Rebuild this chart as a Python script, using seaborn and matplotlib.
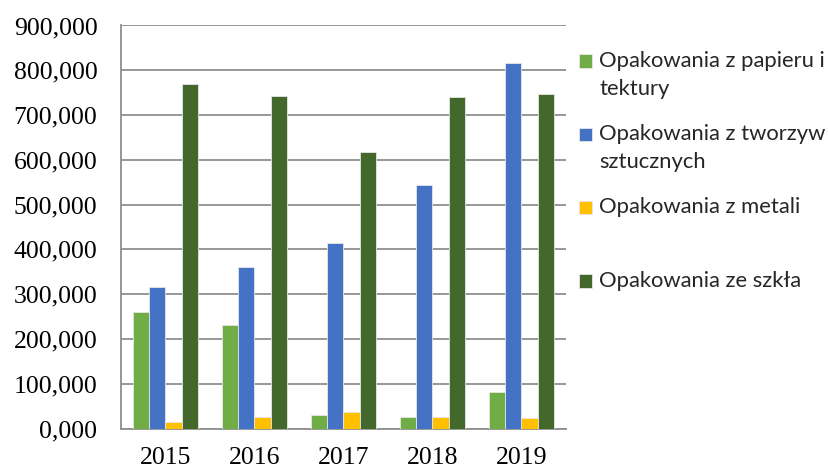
import numpy as np
import pandas as pd
import matplotlib
matplotlib.use('Agg')
import matplotlib.pyplot as plt
import matplotlib.patches as mpatches
from matplotlib.legend_handler import HandlerPatch
from matplotlib.ticker import FuncFormatter, FixedLocator
import seaborn as sns

# dane (tys. ton)
years = ['2015', '2016', '2017', '2018', '2019']
series = ['Opakowania z papieru i\ntektury',
          'Opakowania z tworzyw\nsztucznych',
          'Opakowania z metali\n ',
          'Opakowania ze szkła\n ']
paper = [259.5, 231.0, 29.5, 26.0, 81.5]
plastic = [315.0, 361.0, 415.0, 544.0, 817.0]
metal = [15.0, 26.0, 37.0, 25.5, 24.5]
glass = [769.0, 742.5, 617.0, 741.0, 748.0]
colors = ['#70AD47', '#4472C4', '#FFC000', '#43682B']

df = pd.DataFrame({'rok': years * 4,
                   'typ': [s for s in series for _ in years],
                   'wartosc': paper + plastic + metal + glass})

sns.set_style('white')

fig = plt.figure(figsize=(8.29, 4.68), dpi=100)
ax = fig.add_axes([121 / 829, 1 - 428.5 / 468, 445 / 829, 403 / 468])

sns.barplot(data=df, x='rok', y='wartosc', hue='typ', palette=colors,
            width=0.72, gap=0, saturation=1, edgecolor='#e6e6e6', linewidth=0.6,
            errorbar=None, ax=ax, zorder=3)

ax.set_ylim(0, 900)
ax.set_xlim(-0.5, 4.5)
ax.set_yticks(np.arange(0, 901, 100))
ax.yaxis.set_major_formatter(FuncFormatter(lambda v, p: f'{v:.3f}'.replace('.', ',')))
ax.yaxis.grid(True, color='#8f8f8f', linewidth=1.3, zorder=0)
ax.set_axisbelow(True)
ax.set_xlabel('')
ax.set_ylabel('')

for s in ['top', 'right']:
    ax.spines[s].set_visible(False)
for s in ['left', 'bottom']:
    ax.spines[s].set_color('#8f8f8f')
    ax.spines[s].set_linewidth(1.3)

ax.xaxis.set_minor_locator(FixedLocator(np.arange(-0.5, 4.6, 1)))
ax.tick_params(axis='x', which='major', length=0, pad=13)
ax.tick_params(axis='x', which='minor', length=6, width=1.3, color='#8f8f8f', direction='out')
ax.tick_params(axis='y', length=6, width=1.3, color='#8f8f8f', direction='out', pad=11)
ax.tick_params(axis='both', labelsize=18.5, labelcolor='black')
for lab in ax.get_xticklabels() + ax.get_yticklabels():
    lab.set_family('Liberation Serif')


def square(legend, orig_handle, xdescent, ydescent, width, height, fontsize):
    s = 9.7
    return mpatches.Rectangle((-xdescent, -ydescent + (height - s) / 2 + 10.2), s, s)


handles, labels = ax.get_legend_handles_labels()
leg = ax.legend(handles, labels, loc='upper left', bbox_to_anchor=(579 / 829, 1 - 51 / 468),
                bbox_transform=fig.transFigure, frameon=False, prop={'family': 'Lato', 'size': 15.8},
                handlelength=0.62, handleheight=0.62, handletextpad=0.3, labelspacing=1.15,
                borderpad=0, borderaxespad=0,
                handler_map={mpatches.Rectangle: HandlerPatch(patch_func=square)})
for t in leg.get_texts():
    t.set_linespacing(1.5)

fig.savefig('out.png', dpi=100)
